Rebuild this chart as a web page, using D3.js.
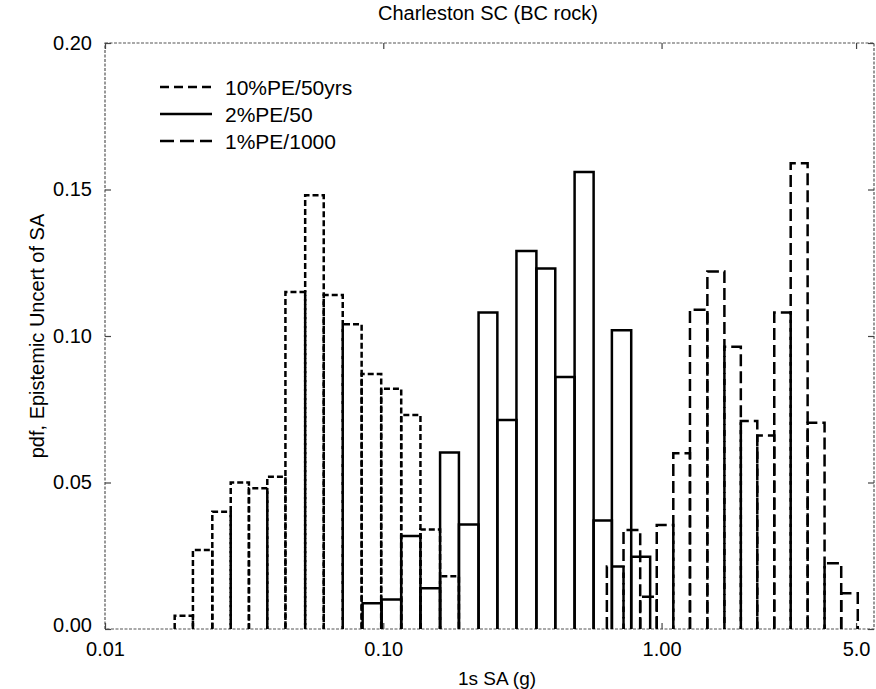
<!DOCTYPE html>
<html>
<head>
<meta charset="utf-8">
<script src="https://cdn.jsdelivr.net/npm/d3@7"></script>
<style>
  body { margin: 0; background: #fff; }
  svg { font-family: "Liberation Sans", Arial, Helvetica, sans-serif; }
</style>
</head>
<body>
<div class="chart"></div>
<script>
// bin edges (g) and pdf heights
const edges10 = [0.0178, 0.0207, 0.0243, 0.0283, 0.0329, 0.0383, 0.0445, 0.0524, 0.0611, 0.0715, 0.0836, 0.0983, 0.116, 0.136, 0.160, 0.187];
const pdf10 = [0.0045, 0.027, 0.040, 0.050, 0.048, 0.052, 0.115, 0.148, 0.114, 0.104, 0.087, 0.082, 0.073, 0.034, 0.018];

const edges2 = [0.0843, 0.0986, 0.116, 0.136, 0.160, 0.187, 0.220, 0.257, 0.301, 0.355, 0.415, 0.487, 0.570, 0.663, 0.778, 0.910];
const pdf2 = [0.0088, 0.0101, 0.0317, 0.0139, 0.0602, 0.0357, 0.108, 0.0713, 0.129, 0.123, 0.086, 0.156, 0.037, 0.102, 0.0247];

const edges1 = [0.636, 0.730, 0.838, 0.961, 1.102, 1.265, 1.461, 1.682, 1.927, 2.208, 2.541, 2.911, 3.349, 3.853, 4.422, 5.071];
const pdf1 = [0.0213, 0.0338, 0.011, 0.0355, 0.060, 0.109, 0.122, 0.0963, 0.071, 0.066, 0.108, 0.159, 0.0704, 0.0224, 0.0122];

const seriesNames = ['10%PE/50yrs', '2%PE/50', '1%PE/1000'];
const xTicks = [0.01, 0.1, 1, 5];
const xTickLabels = ['0.01', '0.10', '1.00', '5.0'];
const yTicks = [0, 0.05, 0.10, 0.15, 0.20];

const width = 876;
const height = 689;
const margin = { top: 43, right: 2, bottom: 60, left: 105 };

const series = [
  { name: seriesNames[0], edges: edges10, pdf: pdf10, dash: '6,3', legendDash: '9,5' },
  { name: seriesNames[1], edges: edges2, pdf: pdf2, dash: null, legendDash: null },
  { name: seriesNames[2], edges: edges1, pdf: pdf1, dash: '12,5', legendDash: '14,6' },
];

const xScale = d3.scaleLog()
  .domain([0.01, 5.8])
  .range([margin.left, width - margin.right]);

const yScale = d3.scaleLinear()
  .domain([0, 0.2])
  .range([height - margin.bottom, margin.top]);

const svg = d3.select('.chart')
  .append('svg')
  .attr('width', width)
  .attr('height', height);

const x0 = xScale.range()[0], x1 = xScale.range()[1];
const yb = yScale(0), yt = yScale(0.2);

// frame (thin, scanned-looking)
svg.append('rect')
  .attr('x', x0)
  .attr('y', yt)
  .attr('width', x1 - x0)
  .attr('height', yb - yt)
  .attr('fill', 'none')
  .attr('stroke', '#555')
  .attr('stroke-width', 1.2)
  .attr('stroke-dasharray', '3,1.5');

// axes with inward ticks
const xAxis = svg.append('g')
  .attr('transform', `translate(0, ${yb})`)
  .call(d3.axisBottom(xScale)
    .tickValues(xTicks)
    .tickFormat((d, i) => xTickLabels[i])
    .tickSizeInner(-6)
    .tickSizeOuter(0)
    .tickPadding(9));

const yAxis = svg.append('g')
  .attr('transform', `translate(${x0}, 0)`)
  .call(d3.axisLeft(yScale)
    .tickValues(yTicks)
    .tickFormat(d3.format('.2f'))
    .tickSizeInner(-6)
    .tickSizeOuter(0)
    .tickPadding(13));

svg.append('g')
  .attr('transform', `translate(0, ${yt})`)
  .call(d3.axisTop(xScale).tickValues(xTicks).tickFormat('').tickSizeInner(-6).tickSizeOuter(0));

svg.append('g')
  .attr('transform', `translate(${x1}, 0)`)
  .call(d3.axisRight(yScale).tickValues(yTicks).tickFormat('').tickSizeInner(-6).tickSizeOuter(0));

svg.selectAll('.domain').remove();
svg.selectAll('.tick line').attr('stroke', '#444').attr('stroke-width', 1.2);
svg.selectAll('.tick text')
  .attr('fill', '#000')
  .style('font-size', '20px');

xAxis.selectAll('.tick text').attr('dy', '0.9em');
yAxis.selectAll('.tick text').attr('dy', '0.3em');
yAxis.selectAll('.tick')
  .filter(d => d === 0)
  .select('text')
  .attr('dy', '0.1em');

// histogram outlines
series.forEach(s => {
  const bars = s.pdf.map((v, i) => ({ lo: s.edges[i], hi: s.edges[i + 1], v }));
  svg.append('g')
    .selectAll('path')
    .data(bars)
    .enter()
    .append('path')
    .attr('d', d => `M${xScale(d.lo)},${yb}V${yScale(d.v)}H${xScale(d.hi)}V${yb}`)
    .attr('fill', 'none')
    .attr('stroke', '#000')
    .attr('stroke-width', 2.5)
    .attr('stroke-dasharray', s.dash);
});

// title and labels
svg.append('text')
  .attr('x', 488)
  .attr('y', 20)
  .attr('text-anchor', 'middle')
  .style('font-size', '20px')
  .text('Charleston SC (BC rock)');

svg.append('text')
  .attr('x', 497)
  .attr('y', 685)
  .attr('text-anchor', 'middle')
  .style('font-size', '19px')
  .text('1s SA (g)');

svg.append('text')
  .attr('transform', 'rotate(-90)')
  .attr('x', -336)
  .attr('y', 44)
  .attr('text-anchor', 'middle')
  .style('font-size', '20px')
  .text('pdf, Epistemic Uncert of SA');

// legend
const legend = svg.selectAll('.legend')
  .data(series)
  .enter()
  .append('g')
  .attr('class', 'legend')
  .attr('transform', (d, i) => `translate(160, ${87 + i * 27})`);

legend.append('line')
  .attr('x1', 0)
  .attr('x2', 52)
  .attr('stroke', '#000')
  .attr('stroke-width', 2.5)
  .attr('stroke-dasharray', d => d.legendDash);

legend.append('text')
  .attr('x', 65)
  .attr('dy', '0.36em')
  .style('font-size', '21px')
  .text(d => d.name);
</script>
</body>
</html>
